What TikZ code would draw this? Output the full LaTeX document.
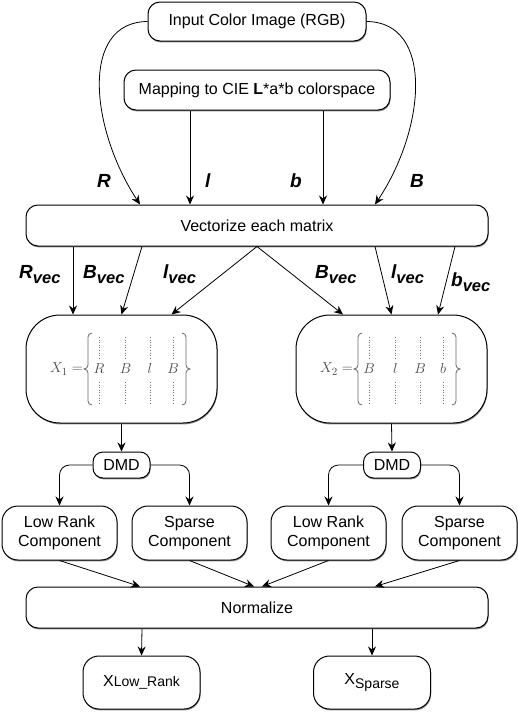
\documentclass[tikz,border=0pt]{standalone}
\usepackage{fontspec}
\setmainfont{Liberation Sans}
\usepackage{amsmath}
\usetikzlibrary{arrows.meta,shadows}

\newcommand{\vsub}[1]{#1\raisebox{-5pt}{\fontsize{16.5}{16.5}\selectfont vec}}

\begin{document}
\begin{tikzpicture}[x=1pt, y=-1pt, font=\fontsize{16}{19}\selectfont,
  box/.style={draw, rectangle, rounded corners=12pt, line width=1pt, fill=white, inner sep=0pt, align=center,
    drop shadow={shadow xshift=0.6pt, shadow yshift=-1.4pt, fill=black!45, opacity=1}},
  wide/.style={box, minimum width=462pt, minimum height=41pt},
  mat/.style={box, rounded corners=34pt, minimum width=191pt, minimum height=108pt},
  dmd/.style={box, rounded corners=10pt, minimum width=57pt, minimum height=26pt},
  comp/.style={box, rounded corners=16pt, minimum width=115pt, minimum height=54pt},
  res/.style={box, rounded corners=16pt, minimum width=117pt, minimum height=53pt},
  ml/.style={inner sep=0pt, anchor=base, text=black!70, font=\fontsize{15}{18}\selectfont},
  dots/.style={black!55, line width=0.8pt, dash pattern=on 0.8pt off 1.8pt},
  brc/.style={draw=black!60, line width=0.8pt},
  lbl/.style={font=\fontsize{19}{19}\selectfont\bfseries\itshape, inner sep=0pt, anchor=base west},
  n/.style={-{Stealth[length=9pt, width=8pt]}, line width=0.8pt}]
  \useasboundingbox (0,0) rectangle (518,712);
  % nodes
  \node[box, minimum width=218pt, minimum height=39pt] (in) at (257,21.5) {Input Color Image (RGB)};
  \node[box, minimum width=266pt, minimum height=40pt] (map) at (257,90) {Mapping to CIE \textbf{L}*a*b colorspace};
  \node[wide] (vec) at (257,225.5) {Vectorize each matrix};
  \node[mat] (X1) at (121.5,369) {};
  \node[mat] (X2) at (391.5,369) {};
  \node[dmd] (dmd1) at (121.5,465) {DMD};
  \node[dmd] (dmd2) at (392,465) {DMD};
  \node[comp] (low1) at (59.5,533) {Low Rank\\Component};
  \node[comp] (sp1) at (189.5,533) {Sparse\\Component};
  \node[comp] (low2) at (328.5,533) {Low Rank\\Component};
  \node[comp] (sp2) at (459.5,533) {Sparse\\Component};
  \node[wide] (norm) at (257,607.5) {Normalize};
  \node[res] (out1) at (141.5,682.5) {X{\fontsize{14}{14}\selectfont Low\_Rank}};
  \node[res] (out2) at (372,682.5) {X\raisebox{-4pt}{\fontsize{14}{14}\selectfont Sparse}};
  % matrices
  \foreach \cx in {121.5,391.5} {
    \draw[brc] (\cx-29.5,333) to[out=180,in=90] (\cx-33.5,337) -- (\cx-33.5,365)
      to[out=-90,in=0] (\cx-37.5,369) to[out=0,in=90] (\cx-33.5,373) -- (\cx-33.5,401) to[out=-90,in=180] (\cx-29.5,405);
    \draw[brc] (\cx+60.5,333) to[out=0,in=90] (\cx+64.5,337) -- (\cx+64.5,365)
      to[out=-90,in=180] (\cx+68.5,369) to[out=180,in=90] (\cx+64.5,373) -- (\cx+64.5,401) to[out=-90,in=0] (\cx+60.5,405);
    \foreach \dx in {-22.5,4,28.5,51.5} {
      \draw[dots] (\cx+\dx,337) -- (\cx+\dx,358);
      \draw[dots] (\cx+\dx,382) -- (\cx+\dx,403);
    }
  }
  \node[ml, anchor=east] (eq1) at (83,369) {$X_1=$};
  \node[ml, anchor=east] (eq2) at (353,369) {$X_2=$};
  \foreach \c/\dx [count=\i] in {R/-22.5,B/4,l/28.5,B/51.5}
    \node[ml] (a\i) at ([xshift=\dx pt, yshift=-4pt]X1.center) {$\c$};
  \foreach \c/\dx [count=\i] in {B/-22.5,l/4,B/28.5,b/51.5}
    \node[ml] (b\i) at ([xshift=\dx pt, yshift=-4pt]X2.center) {$\c$};
  % labels
  \node[lbl] (lR) at (97,187) {R};
  \node[lbl] (ll) at (205,187) {l};
  \node[lbl] (lb) at (290,187) {b};
  \node[lbl] (lB) at (410,187) {B};
  \node[lbl] (vR) at (19,278) {\vsub{R}};
  \node[lbl] (vB1) at (83,278) {\vsub{B}};
  \node[lbl] (vl1) at (163,278) {\vsub{l}};
  \node[lbl] (vB2) at (315,278) {\vsub{B}};
  \node[lbl] (vl2) at (391,278) {\vsub{l}};
  \node[lbl] (vb) at (451,286) {\vsub{b}};
  % edges
  \draw[n] (in.west) .. controls (80,22) and (90,128) .. ([xshift=-117pt]vec.north);
  \draw[n] (in.east) .. controls (434,22) and (426,128) .. ([xshift=118pt]vec.north);
  \draw[n] ([xshift=-67pt]map.south) -- ([xshift=-67pt]vec.north);
  \draw[n] ([xshift=66pt]map.south) -- ([xshift=66pt]vec.north);
  \draw[n] ([xshift=-184pt]vec.south) -- ([xshift=-48.5pt]X1.north);
  \draw[n] ([xshift=-115pt]vec.south) -- (X1.north);
  \draw[n] (vec.south) -- ([xshift=50pt]X1.north);
  \draw[n] (vec.south) -- ([xshift=-48.5pt]X2.north);
  \draw[n] ([xshift=118pt]vec.south) -- (X2.north);
  \draw[n] ([xshift=198pt]vec.south) -- ([xshift=46.5pt]X2.north);
  \draw[n] (X1.south) -- (dmd1.north);
  \draw[n] (X2.south) -- (dmd2.north);
  \draw[n, rounded corners=10pt] (dmd1.west) -| (low1.north);
  \draw[n, rounded corners=10pt] (dmd1.east) -| (sp1.north);
  \draw[n, rounded corners=10pt] (dmd2.west) -| (low2.north);
  \draw[n, rounded corners=10pt] (dmd2.east) -| (sp2.north);
  \draw[n] (low1.south) -- ([xshift=-117pt]norm.north);
  \draw[n] (sp1.south) -- ([xshift=-3pt]norm.north);
  \draw[n] (low2.south) -- ([xshift=5pt]norm.north);
  \draw[n] (sp2.south) -- ([xshift=118pt]norm.north);
  \draw[n] ([xshift=-115pt]norm.south) -- (out1.north);
  \draw[n] ([xshift=115pt]norm.south) -- (out2.north);
\end{tikzpicture}
\end{document}
